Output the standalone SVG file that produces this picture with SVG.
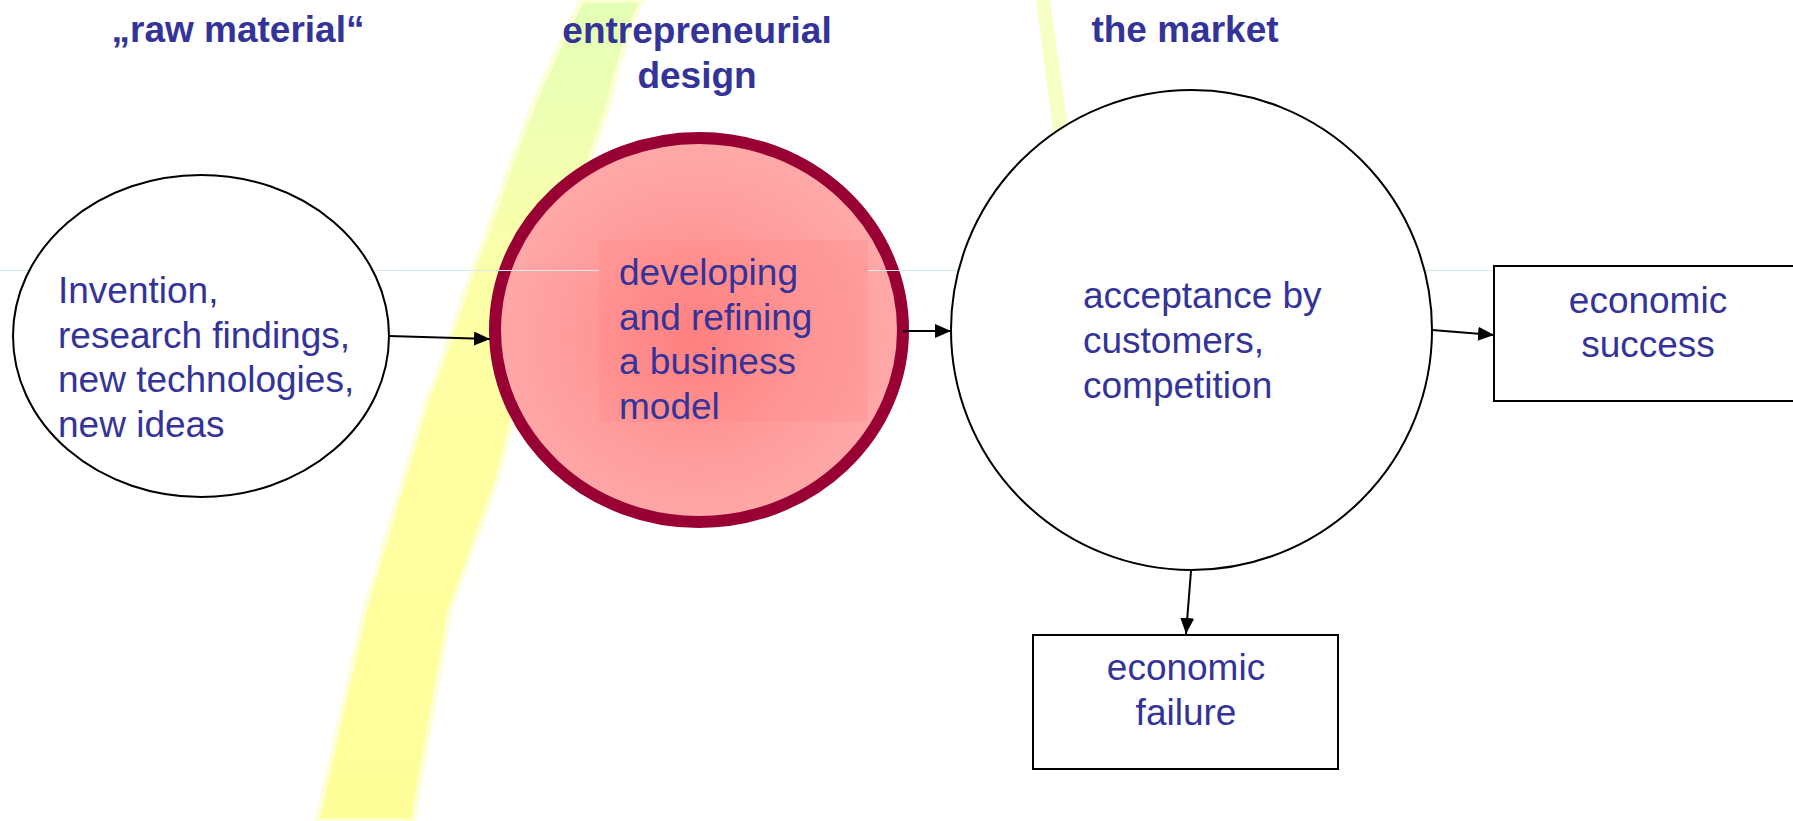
<svg xmlns="http://www.w3.org/2000/svg" width="1793" height="821" viewBox="0 0 1793 821">
  <style>
    .lbl { font-family: "Liberation Sans", Arial, sans-serif; font-size: 37px; fill: #333399; }
    .hd { font-family: "Liberation Sans", Arial, sans-serif; font-size: 37px; font-weight: bold; fill: #333399; }
    .plain { fill: #ffffff; stroke: #000000; stroke-width: 2; }
    .conn { stroke: #000000; stroke-width: 2; fill: none; marker-end: url(#arrow); }
    .guide { stroke: #d6ecec; stroke-width: 1.2; }
  </style>
  <defs>
    <marker id="arrow" markerUnits="userSpaceOnUse" markerWidth="16" markerHeight="14" refX="16" refY="7" orient="auto">
      <path d="M0,0 L16,7 L0,14 z" fill="#000000"/>
    </marker>
    <linearGradient id="band" x1="0" y1="0" x2="0" y2="821" gradientUnits="userSpaceOnUse">
      <stop offset="0" stop-color="#e2ffb5"/>
      <stop offset="0.18" stop-color="#f2ffb2"/>
      <stop offset="0.4" stop-color="#ffffa4"/>
      <stop offset="1" stop-color="#ffff99"/>
    </linearGradient>
    <radialGradient id="pink" cx="0.49" cy="0.52" r="0.5">
      <stop offset="0" stop-color="#ff8080"/>
      <stop offset="0.55" stop-color="#ff9a9a"/>
      <stop offset="1" stop-color="#ffa8a8"/>
    </radialGradient>
  </defs>

  <rect x="0" y="0" width="1793" height="821" fill="#ffffff"/>

  <g id="yellow-bands">
    <polygon points="582,0 558,50 535,100 510,167 487,233 473,270 440,367 427,400 365,610 317,821 413,821 450,610 497,480 530,350 560,250 593,150 607,110 618,67 628,33 642,0" fill="url(#band)" stroke="#fdffd4" stroke-width="5" stroke-linejoin="round"/>
    <polygon points="1036,0 1050,0 1078,200 1062,200" fill="#f6ffc4"/>
  </g>

  <g id="node-design">
    <ellipse cx="699" cy="330" rx="204" ry="192" fill="url(#pink)" stroke="#990033" stroke-width="12"/>
  </g>

  <g id="guide-line">
    <line class="guide" x1="0" y1="270.5" x2="599" y2="270.5"/>
    <line class="guide" x1="868" y1="270.5" x2="1793" y2="270.5"/>
  </g>

  <g id="node-raw">
    <ellipse class="plain" cx="201" cy="336" rx="188" ry="161"/>
  </g>
  <g id="node-market">
    <ellipse class="plain" cx="1191.5" cy="330" rx="240.5" ry="240"/>
  </g>
  <g id="design-textbox">
    <rect x="599" y="240" width="269" height="182" fill="#ff8080" fill-opacity="0.22"/>
  </g>
  <g id="node-failure">
    <rect class="plain" x="1033" y="635" width="305" height="134"/>
  </g>
  <g id="node-success">
    <rect class="plain" x="1494" y="266" width="306" height="135"/>
  </g>

  <g id="connectors">
    <line class="conn" x1="389" y1="336" x2="490" y2="339"/>
    <line class="conn" x1="903" y1="331" x2="951" y2="331"/>
    <line class="conn" x1="1432" y1="330" x2="1494" y2="335"/>
    <line class="conn" x1="1191" y1="571" x2="1186" y2="634"/>
  </g>

  <g id="headings">
    <text class="hd" x="238" y="42" text-anchor="middle">„raw material“</text>
    <text class="hd" x="697" y="43" text-anchor="middle">entrepreneurial</text>
    <text class="hd" x="697" y="88" text-anchor="middle">design</text>
    <text class="hd" x="1185" y="42" text-anchor="middle">the market</text>
  </g>

  <g id="labels">
    <text class="lbl" x="58" y="303">Invention,</text>
    <text class="lbl" x="58" y="348">research findings,</text>
    <text class="lbl" x="58" y="392">new technologies,</text>
    <text class="lbl" x="58" y="437">new ideas</text>

    <text class="lbl" x="619" y="285">developing</text>
    <text class="lbl" x="619" y="329.5">and refining</text>
    <text class="lbl" x="619" y="374">a business</text>
    <text class="lbl" x="619" y="418.5">model</text>

    <text class="lbl" x="1083" y="308">acceptance by</text>
    <text class="lbl" x="1083" y="353">customers,</text>
    <text class="lbl" x="1083" y="398">competition</text>

    <text class="lbl" x="1186" y="680" text-anchor="middle">economic</text>
    <text class="lbl" x="1186" y="725" text-anchor="middle">failure</text>

    <text class="lbl" x="1648" y="313" text-anchor="middle">economic</text>
    <text class="lbl" x="1648" y="357" text-anchor="middle">success</text>
  </g>
</svg>
